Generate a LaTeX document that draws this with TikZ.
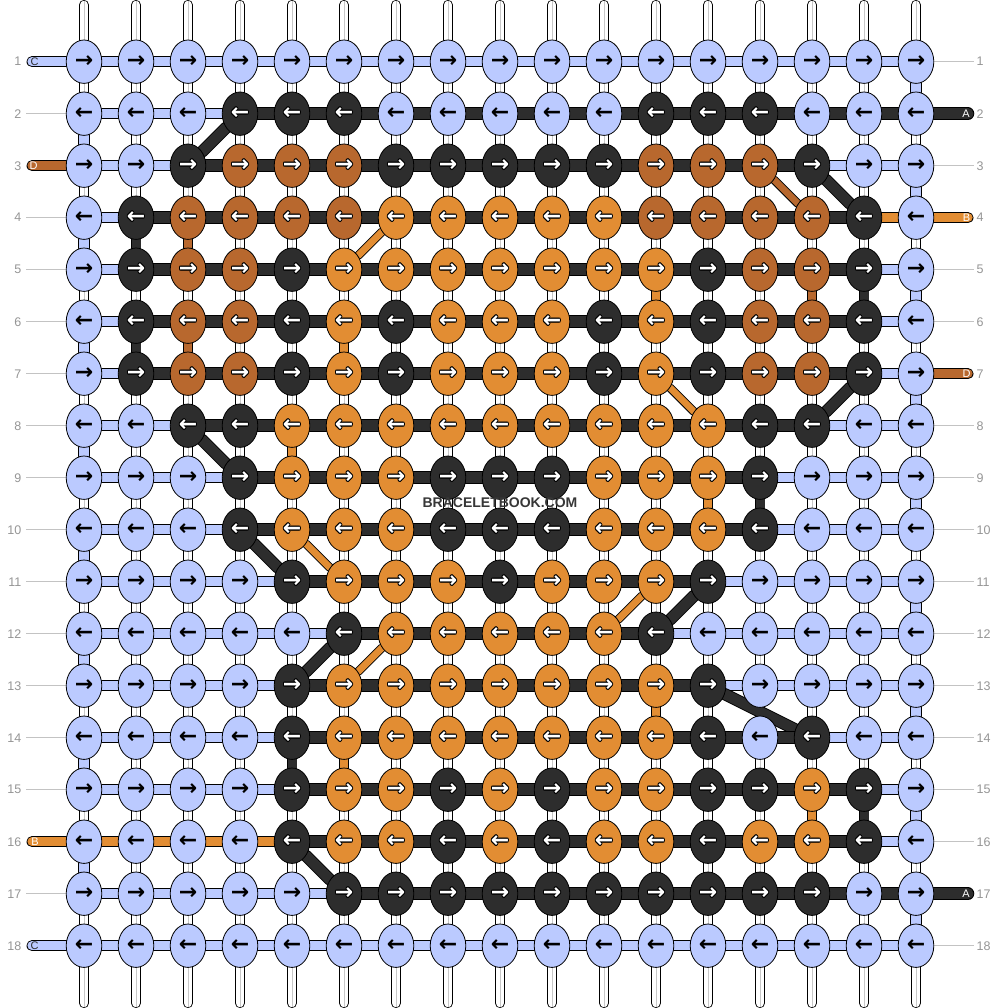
\documentclass[tikz,border=0pt]{standalone}
\usepackage{fontspec}
\setmainfont{Liberation Sans}
\newfontfamily\arrowfont{DejaVu Sans}
\usetikzlibrary{shapes.geometric}
\definecolor{lb}{RGB}{187,202,255}
\definecolor{dk}{RGB}{45,45,45}
\definecolor{br}{RGB}{184,104,46}
\definecolor{og}{RGB}{226,141,51}
\definecolor{numgray}{RGB}{150,150,150}
\definecolor{linegray}{RGB}{195,195,195}
\definecolor{wmgray}{RGB}{55,55,55}
\pgfdeclarelayer{bgfill}
\pgfdeclarelayer{warp}
\pgfdeclarelayer{strings}
\pgfsetlayers{bgfill,warp,strings,main}
\newcommand\shft[3]{\rlap{\hspace*{#1}\raisebox{#2}{\makebox[0pt]{#3}}}}
\newcommand\outlined[1]{{\color{black}\shft{1pt}{0pt}{#1}\shft{-1pt}{0pt}{#1}\shft{0pt}{1pt}{#1}\shft{0pt}{-1pt}{#1}\shft{.7pt}{.7pt}{#1}\shft{-.7pt}{.7pt}{#1}\shft{.7pt}{-.7pt}{#1}\shft{-.7pt}{-.7pt}{#1}}\makebox[0pt]{\color{white}#1}}
\newcommand\plainarrow[1]{\makebox[0pt]{\color{black}#1}}
\newcommand\ktL[1]{\plainarrow{#1}}
\newcommand\ktD[1]{\outlined{#1}}
\newcommand\ktB[1]{\outlined{#1}}
\newcommand\ktO[1]{\outlined{#1}}
\newcommand\knotrow[2]{%
  \ifodd#1\relax\def\ac{→}\else\def\ac{←}\fi
  \foreach \k [count=\c] in {#2} {%
    \node[knot,knot\k] (k#1-\c) at ({84+52*(\c-1)},{61.7+52*(#1-1)}) {\csname kt\k\endcsname{\ac}};
  }}
\tikzset{
  knot/.style={ellipse, draw=black, line width=0.8pt, minimum width=35.6pt, minimum height=43.4pt, inner sep=0pt, font=\arrowfont\bfseries\fontsize{22}{22}\selectfont},
  knotL/.style={fill=lb}, knotD/.style={fill=dk}, knotB/.style={fill=br}, knotO/.style={fill=og},
  sd/.style 2 args={draw=black, line width=0.9pt, double=#1, double distance=#2, line cap=round},
  hA/.style={sd={dk}{10.7pt}}, vA/.style={sd={dk}{9pt}}, dA/.style={sd={dk}{10.4pt}},
  hB/.style={sd={og}{9.2pt}}, vB/.style={sd={og}{8.6pt}}, dB/.style={sd={og}{6.8pt}},
  hC/.style={sd={lb}{9.2pt}}, vC/.style={sd={lb}{9.4pt}},
  hD/.style={sd={br}{9.2pt}}, vD/.style={sd={br}{8.6pt}}, dD/.style={sd={br}{6.8pt}},
  warpline/.style={draw=black, line width=0.8pt, double=white, double distance=8.6pt, line cap=round},
  warpmid/.style={draw=black!22, line width=0.8pt},
  guide/.style={draw=linegray, line width=0.9pt},
  num/.style={text=numgray, font=\fontsize{12.5}{12.5}\selectfont, inner sep=0pt},
  endlbl/.style={font=\fontsize{11}{11}\selectfont, inner sep=0pt},
  wm/.style={text=wmgray, font=\bfseries\fontsize{14}{14}\selectfont, inner sep=0pt}
}
\begin{document}
\begin{tikzpicture}[x=1pt,y=-1pt]
\useasboundingbox (0,0) rectangle (1000,1008);
\begin{pgfonlayer}{bgfill}
\fill[white] (0,0) rectangle (1000,1008);
\end{pgfonlayer}
% warps
\begin{pgfonlayer}{warp}
\foreach \c in {1,...,17} {
  \coordinate (wt\c) at ({84+52*(\c-1)},5);
  \coordinate (wb\c) at ({84+52*(\c-1)},1003);
  \draw[warpline] (wt\c) -- (wb\c);
  \draw[warpmid] ([yshift=4]wt\c) -- ([yshift=-4]wb\c);
}
\end{pgfonlayer}
% knots
\knotrow{1}{L,L,L,L,L,L,L,L,L,L,L,L,L,L,L,L,L}
\knotrow{2}{L,L,L,D,D,D,L,L,L,L,L,D,D,D,L,L,L}
\knotrow{3}{L,L,D,B,B,B,D,D,D,D,D,B,B,B,D,L,L}
\knotrow{4}{L,D,B,B,B,B,O,O,O,O,O,B,B,B,B,D,L}
\knotrow{5}{L,D,B,B,D,O,O,O,O,O,O,O,D,B,B,D,L}
\knotrow{6}{L,D,B,B,D,O,D,O,O,O,D,O,D,B,B,D,L}
\knotrow{7}{L,D,B,B,D,O,D,O,O,O,D,O,D,B,B,D,L}
\knotrow{8}{L,L,D,D,O,O,O,O,O,O,O,O,O,D,D,L,L}
\knotrow{9}{L,L,L,D,O,O,O,D,D,D,O,O,O,D,L,L,L}
\knotrow{10}{L,L,L,D,O,O,O,D,D,D,O,O,O,D,L,L,L}
\knotrow{11}{L,L,L,L,D,O,O,O,D,O,O,O,D,L,L,L,L}
\knotrow{12}{L,L,L,L,L,D,O,O,O,O,O,D,L,L,L,L,L}
\knotrow{13}{L,L,L,L,D,O,O,O,O,O,O,O,D,L,L,L,L}
\knotrow{14}{L,L,L,L,D,O,O,O,O,O,O,O,D,L,D,L,L}
\knotrow{15}{L,L,L,L,D,O,O,D,O,D,O,O,D,D,O,D,L}
\knotrow{16}{L,L,L,L,D,O,O,D,O,D,O,O,D,O,O,D,L}
\knotrow{17}{L,L,L,L,L,D,D,D,D,D,D,D,D,D,D,L,L}
\knotrow{18}{L,L,L,L,L,L,L,L,L,L,L,L,L,L,L,L,L}
% string ends
\coordinate (cS) at (32,61.7);
\coordinate (cE) at (32,945.7);
\coordinate (dS) at (32,165.7);
\coordinate (dE) at (968,373.7);
\coordinate (bS) at (968,217.7);
\coordinate (bE) at (32,841.7);
\coordinate (aS) at (968,113.7);
\coordinate (aE) at (968,893.7);
\begin{pgfonlayer}{strings}
% D (brown)
\foreach \a/\b/\s in {dS/k3-14/hD, k3-14/k4-15/dD, k4-15/k4-3/hD, k4-3/k5-3/vD, k5-3/k5-15/hD, k5-15/k6-15/vD, k6-15/k6-3/hD, k6-3/k7-3/vD, k7-3/dE/hD}
  \draw[\s] (\a) -- (\b);
% C (light blue)
\foreach \a/\b/\s in {cS/k1-17/hC, k1-17/k2-17/vC, k2-17/k2-1/hC, k2-1/k3-1/vC, k3-1/k3-17/hC, k3-17/k4-17/vC, k4-17/k4-1/hC, k4-1/k5-1/vC, k5-1/k5-17/hC, k5-17/k6-17/vC, k6-17/k6-1/hC, k6-1/k7-1/vC, k7-1/k7-17/hC, k7-17/k8-17/vC, k8-17/k8-1/hC, k8-1/k9-1/vC, k9-1/k9-17/hC, k9-17/k10-17/vC, k10-17/k10-1/hC, k10-1/k11-1/vC, k11-1/k11-17/hC, k11-17/k12-17/vC, k12-17/k12-1/hC, k12-1/k13-1/vC, k13-1/k13-17/hC, k13-17/k14-17/vC, k14-17/k14-1/hC, k14-1/k15-1/vC, k15-1/k15-17/hC, k15-17/k16-17/vC, k16-17/k16-1/hC, k16-1/k17-1/vC, k17-1/k17-17/hC, k17-17/k18-17/vC, k18-17/cE/hC}
  \draw[\s] (\a) -- (\b);
% B (orange)
\foreach \a/\b/\s in {bS/k4-7/hB, k4-7/k5-6/dB, k5-6/k5-12/hB, k5-12/k6-12/vB, k6-12/k6-6/hB, k6-6/k7-6/vB, k7-6/k7-12/hB, k7-12/k8-13/dB, k8-13/k8-5/hB, k8-5/k9-5/vB, k9-5/k9-13/hB, k9-13/k10-13/vB, k10-13/k10-5/hB, k10-5/k11-6/dB, k11-6/k11-12/hB, k11-12/k12-11/dB, k12-11/k12-7/hB, k12-7/k13-6/dB, k13-6/k13-12/hB, k13-12/k14-12/vB, k14-12/k14-6/hB, k14-6/k15-6/vB, k15-6/k15-15/hB, k15-15/k16-15/vB, k16-15/bE/hB}
  \draw[\s] (\a) -- (\b);
% A (dark)
\foreach \a/\b/\s in {aS/k2-4/hA, k2-4/k3-3/dA, k3-3/k3-15/hA, k3-15/k4-16/dA, k4-16/k4-2/hA, k4-2/k5-2/vA, k5-2/k5-16/hA, k5-16/k6-16/vA, k6-16/k6-2/hA, k6-2/k7-2/vA, k7-2/k7-16/hA, k7-16/k8-15/dA, k8-15/k8-3/hA, k8-3/k9-4/dA, k9-4/k9-14/hA, k9-14/k10-14/vA, k10-14/k10-4/hA, k10-4/k11-5/dA, k11-5/k11-13/hA, k11-13/k12-12/dA, k12-12/k12-6/hA, k12-6/k13-5/dA, k13-5/k13-13/hA, k13-13/k14-15/dA, k14-15/k14-5/hA, k14-5/k15-5/vA, k15-5/k15-16/hA, k15-16/k16-16/vA, k16-16/k16-5/hA, k16-5/k17-6/dA, k17-6/aE/hA}
  \draw[\s] (\a) -- (\b);
% guide lines
\foreach \r in {2,4,5,6,7,8,9,10,11,12,13,14,15,17} {
  \coordinate (gl\r) at (26,{61.7+52*(\r-1)});
  \draw[guide] (gl\r) -- (k\r-1);
}
\foreach \r in {1,3,5,6,8,9,10,11,12,13,14,15,16,18} {
  \coordinate (gr\r) at (974,{61.7+52*(\r-1)});
  \draw[guide] (k\r-17) -- (gr\r);
}
\end{pgfonlayer}
% end letters
\node[endlbl, text=dk] (lC1) at (34.5,61.7) {C};
\node[endlbl, text=dk] (lC2) at (34.5,945.7) {C};
\node[endlbl, text=white] (lD1) at (33.5,165.7) {D};
\node[endlbl, text=white] (lB2) at (35,841.7) {B};
\node[endlbl, text=white] (lA1) at (966,113.7) {A};
\node[endlbl, text=white] (lB1) at (966.5,217.7) {B};
\node[endlbl, text=white] (lD2) at (966.5,373.7) {D};
\node[endlbl, text=white] (lA2) at (966,893.7) {A};
% row numbers
\foreach \r in {1,...,18} {
  \node[num, anchor=east] (nl\r) at (21.5,{61.7+52*(\r-1)}) {\r};
  \node[num, anchor=west] (nr\r) at (976.5,{61.7+52*(\r-1)}) {\r};
}
\node[wm] (wmark) at (500,503) {BRACELETBOOK.COM};
\end{tikzpicture}
\end{document}
